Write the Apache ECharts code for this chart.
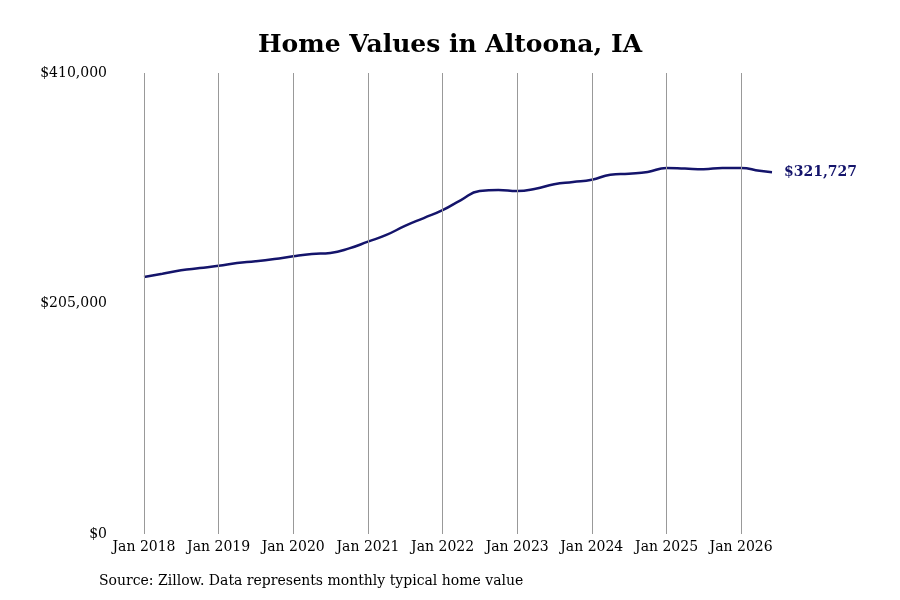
<!DOCTYPE html>
<html><head><meta charset="utf-8">
<script src="https://cdn.jsdelivr.net/npm/echarts@6/dist/echarts.min.js"></script>
<style>html,body{margin:0;background:#fff}#c{width:900px;height:600px}</style>
</head><body><div id="c"></div>
<script>
const dates = ['2018-01-01','2018-04-01','2018-07-01','2018-10-01','2019-01-01','2019-04-01','2019-07-01','2019-10-01','2020-01-01','2020-04-01','2020-07-01','2020-10-01','2021-01-01','2021-04-01','2021-07-01','2021-10-01','2022-01-01','2022-04-01','2022-07-01','2022-10-01','2023-01-01','2023-04-01','2023-07-01','2023-10-01','2024-01-01','2024-04-01','2024-07-01','2024-10-01','2025-01-01','2025-04-01','2025-07-01','2025-10-01','2026-01-01','2026-04-01','2026-06-01'];
const values = [228600,231500,234500,236500,238500,241000,242500,244500,247000,249000,250000,254000,260000,266000,274000,281000,288000,297000,305000,306000,305000,307000,311000,313000,315000,319500,320500,322000,325500,325000,324500,325500,325500,323000,321727];
const yearTicks = ['2018-01-01','2019-01-01','2020-01-01','2021-01-01','2022-01-01','2023-01-01','2024-01-01','2025-01-01','2026-01-01'];
const yTicks = [0,205000,410000];
const fmt = v => '$' + v.toLocaleString('en-US');
const font = 'DejaVu Serif';
const chart = echarts.init(document.getElementById('c'));
chart.setOption({
  animation:false,
  textStyle:{fontFamily:font},
  title:{text:'Home Values in Altoona, IA',left:'center',top:28,textStyle:{fontFamily:font,fontSize:25,fontWeight:'bold',color:'#000'}},
  graphic:[{type:'text',left:99,top:574,style:{text:'Source: Zillow. Data represents monthly typical home value',font:'14px "DejaVu Serif"',fill:'#000'}}],
  grid:{left:144,right:128,top:73,bottom:66},
  xAxis:{type:'time',min:'2018-01-01',max:'2026-06-01',minInterval:365*86400000,maxInterval:366*86400000,
    axisLine:{show:false},axisTick:{show:false},splitLine:{show:false},
    axisLabel:{formatter:'{MMM} {yyyy}',color:'#000',fontSize:14,fontFamily:font,margin:6,showMaxLabel:false}},
  yAxis:{type:'value',min:yTicks[0],max:yTicks[2],interval:yTicks[1],
    axisLine:{show:false},axisTick:{show:false},splitLine:{show:false},
    axisLabel:{formatter:v=>fmt(v),color:'#000',fontSize:14,fontFamily:font,margin:37}},
  series:[{type:'line',data:dates.map((d,i)=>[d,values[i]]),smooth:true,symbol:'none',
    lineStyle:{color:'#14146b',width:2.5},
    markLine:{silent:true,symbol:'none',label:{show:false},lineStyle:{color:'#999',width:1,type:'solid'},
      data:yearTicks.map(d=>({xAxis:d}))},
    endLabel:{show:true,formatter:p=>fmt(p.value[1]),color:'#14146b',fontWeight:'bold',fontSize:14,fontFamily:font,distance:12}}]
});
</script></body></html>
